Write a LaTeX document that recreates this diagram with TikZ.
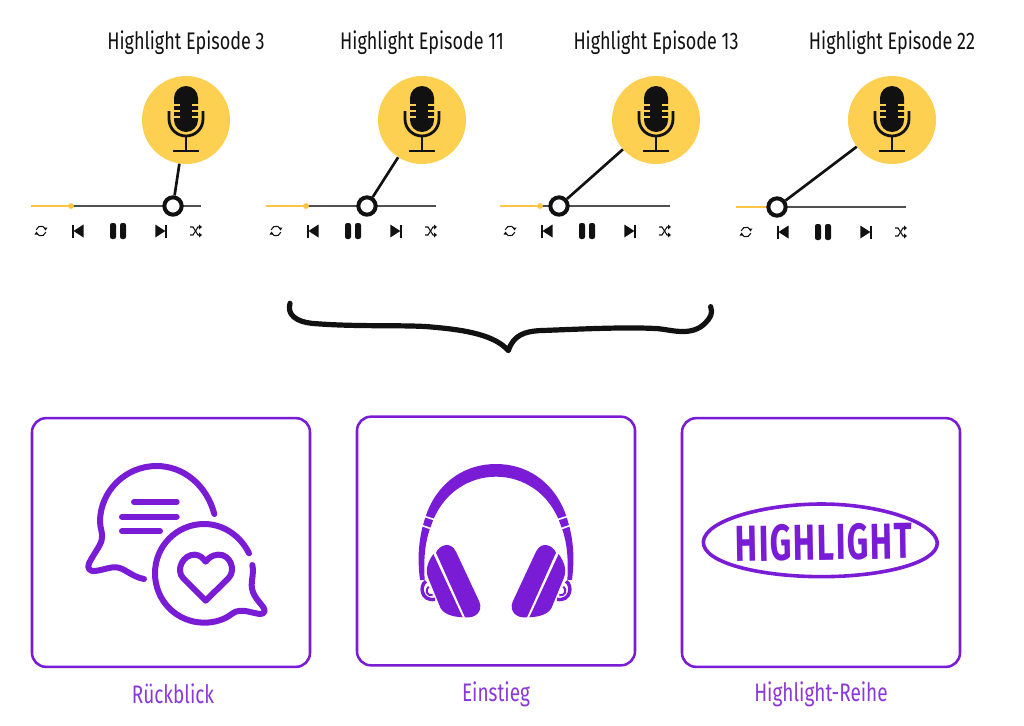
\documentclass[tikz,border=0pt]{standalone}
\usepackage{fontspec}
\setmainfont{Fira Sans}
\newfontfamily\condfont[FakeStretch=0.75]{Fira Sans}
\newfontfamily\handfont[FakeStretch=0.66,LetterSpace=3]{Fira Sans Bold}
\definecolor{purp}{HTML}{7A1CD6}
\definecolor{yel}{HTML}{FDD052}
\definecolor{ink}{HTML}{111111}
\definecolor{track}{HTML}{505050}
\tikzset{
  micdisc/.style={circle,fill=yel,minimum size=66pt,inner sep=0pt},
  knob/.style={circle,draw=ink,fill=white,line width=3pt,minimum size=13pt,inner sep=0pt},
  conn/.style={draw=ink,line width=2pt},
  eplabel/.style={font=\condfont\fontsize{18}{20}\selectfont,text=ink,inner sep=0pt},
  catbox/.style={draw=purp,line width=1.9pt,rounded corners=10.5pt,minimum width=208.5pt,minimum height=186.5pt,inner sep=0pt,fill=white},
  catlabel/.style={font=\condfont\fontsize{19}{20}\selectfont,text=purp!88!white,inner sep=0pt},
  icon/.style={draw=purp,line width=4.5pt,line cap=round,line join=round},
  iconscale/.style={x=0.25pt,y=-0.25pt},
  mic/.pic={
    \fill[ink] (-12,-21) arc[start angle=180,end angle=0,radius=9pt] -- (12,1) arc[start angle=0,end angle=-180,radius=9pt] -- cycle;
    \draw[yel,line width=1.1pt] (-13,-14) -- (-6,-14) (13,-14) -- (6,-14) (-13,-8) -- (-6,-8) (13,-8) -- (6,-8) (-13,-2) -- (-6,-2) (13,-2) -- (6,-2);
    \draw[ink,line width=2.1pt] (-17,-8) -- (-17,0) .. controls (-17,10) and (-9,17) .. (0,17) .. controls (9,17) and (17,10) .. (17,0) -- (17,-8);
    \draw[ink,line width=2.1pt] (0,17) -- (0,32) (-13,32) -- (13,32);
  },
  ctrl/.pic={
    % repeat
    \draw[ink,line width=0.8pt] (14.5,-2) arc[start angle=25,end angle=165,radius=3.75pt];
    \draw[ink,line width=0.8pt] (5.5,2) arc[start angle=205,end angle=345,radius=3.75pt];
    \fill[ink] (16.5,-3.5) -- (12.5,-3.5) -- (14.5,-0.5) -- cycle (3.5,3.5) -- (7.5,3.5) -- (5.5,0.5) -- cycle;
    % previous
    \fill[ink] (41.3,-6.5) rectangle (43,6.5);
    \fill[ink] (42.5,0) -- (52.5,-6.5) -- (52.5,6.5) -- cycle;
    % pause
    \fill[ink,rounded corners=1.6pt] (79,-8) rectangle (85,8);
    \fill[ink,rounded corners=1.6pt] (89,-8) rectangle (95,8);
    % next
    \fill[ink] (134.3,0) -- (124.3,-6.5) -- (124.3,6.5) -- cycle;
    \fill[ink] (134,-6.5) rectangle (135.7,6.5);
    % shuffle
    \draw[ink,line width=0.8pt] (159,-4) -- (162,-4) -- (167,4) -- (169,4);
    \draw[ink,line width=0.8pt] (159,4) -- (162,4) -- (167,-4) -- (169,-4);
    \fill[ink] (171,-4) -- (168,-6.5) -- (168,-1.5) -- cycle (171,4) -- (168,1.5) -- (168,6.5) -- cycle;
  }
}
\newcommand{\halfphone}{%
  \fill[purp] (258,428) .. controls (268,405) and (302,392) .. (318,425) -- (388,575) .. controls (400,605) and (375,626) .. (345,622) -- cycle;
  \fill[purp] (250,432) -- (338,622) .. controls (310,620) and (285,615) .. (272,595) -- (235,505) .. controls (225,480) and (232,458) .. (250,432) -- cycle;
  \draw[purp,line width=2.6pt] (228,514) .. controls (208,525) and (212,575) .. (255,568);
  \draw[purp,line width=1.5pt] (236,530) .. controls (224,540) and (230,558) .. (248,556);
  \draw[white,line width=1.2pt] (219,318) -- (254,329) (212,345) -- (245,357);
}
\begin{document}
\begin{tikzpicture}[x=0.75pt,y=-0.75pt]
\useasboundingbox[fill=white] (0,0) rectangle (1024,725);

% players
\foreach \i/\x/\y/\hx/\mx/\t in {1/31/206/173/186/3,2/266/206/367/422/11,3/500/206/559/656/13,4/736/207/777/892/22}{
  \node[eplabel] (lab\i) at (\mx,42.5) {Highlight Episode \t};
  \node[micdisc] (disc\i) at (\mx,120) {};
  \pic at (\mx,119) {mic};
  \draw[track,line width=1.4pt] (\x,\y) -- ++(170,0);
  \draw[yel!85!orange,line width=1.4pt] (\x,\y) -- ++(40,0);
  \fill[yel!85!orange] (\x+40,\y) circle[radius=2.2pt];
  \node[knob] (knob\i) at (\hx,\y) {};
  \draw[conn] (disc\i) -- (knob\i);
  \pic at (\x,\y+25) {ctrl};
}

% brace
\begin{scope}[shift={(275,290)},iconscale]
\draw[ink,line width=3.9pt,line cap=round,line join=round]
  (45,40) .. controls (35,75) and (65,95) .. (110,100)
  .. controls (250,112) and (400,103) .. (480,112)
  .. controls (570,120) and (660,135) .. (700,182)
  .. controls (715,135) and (750,125) .. (790,122)
  .. controls (900,118) and (1050,110) .. (1150,116)
  .. controls (1190,120) and (1250,140) .. (1290,100)
  .. controls (1305,85) and (1315,70) .. (1307,50);
\end{scope}

% boxes
\node[catbox] (boxa) at (171,542.5) {};
\node[catbox] (boxb) at (496,541) {};
\node[catbox] (boxc) at (821,542.5) {};
\node[catlabel] (laba) at (173,694) {Rückblick};
\node[catlabel] (labb) at (496,694) {Einstieg};
\node[catlabel] (labc) at (821,694) {Highlight-Reihe};

% chat icon
\begin{scope}[shift={(20,410)},iconscale]
\draw[icon] (583,312) .. controls (560,225) and (490,168) .. (410,168)
  .. controls (315,168) and (240,245) .. (240,335)
  .. controls (240,355) and (250,370) .. (245,390)
  .. controls (240,410) and (222,430) .. (207,460)
  .. controls (200,475) and (210,485) .. (225,483)
  .. controls (250,480) and (270,470) .. (290,472)
  .. controls (315,475) and (335,500) .. (372,507);
\draw[icon] (342,276) -- (470,276) (306,320) -- (470,320) (306,364) -- (420,364);
\draw[icon] (687,430) .. controls (662,378) and (610,342) .. (553,342)
  .. controls (470,342) and (405,408) .. (405,490)
  .. controls (405,572) and (470,638) .. (553,638)
  .. controls (585,638) and (615,628) .. (635,612)
  .. controls (650,600) and (668,600) .. (690,606)
  -- (718,612) .. controls (733,613) and (738,602) .. (730,592)
  .. controls (718,575) and (695,555) .. (695,525)
  .. controls (695,505) and (702,490) .. (697,465);
\draw[icon] (557,572) -- (490,505) .. controls (465,480) and (490,432) .. (525,434)
  .. controls (540,435) and (550,445) .. (557,455)
  .. controls (565,445) and (575,435) .. (595,434)
  .. controls (630,432) and (650,480) .. (625,505) -- cycle;
\end{scope}

% headphones
\begin{scope}[shift={(350,410)},iconscale]
\fill[purp] (210,510) .. controls (200,430) and (208,370) .. (232,305)
  .. controls (270,210) and (350,162) .. (438,162)
  .. controls (526,162) and (606,210) .. (644,305)
  .. controls (668,370) and (676,430) .. (666,510)
  -- (652,510) .. controls (656,440) and (650,390) .. (632,345)
  .. controls (600,250) and (520,200) .. (438,200)
  .. controls (356,200) and (276,250) .. (244,345)
  .. controls (226,390) and (220,440) .. (224,510) -- cycle;
\halfphone
\begin{scope}[shift={(876,0)},xscale=-1]
\halfphone
\end{scope}
\end{scope}

% highlight badge
\begin{scope}[shift={(675,480)},iconscale]
\draw[purp,line width=2.7pt] (85,185) .. controls (90,120) and (270,72) .. (440,72)
  .. controls (620,72) and (785,130) .. (787,190)
  .. controls (785,250) and (620,290) .. (440,290)
  .. controls (260,290) and (82,250) .. (85,185) -- cycle;
\node[inner sep=0pt,text=purp,rotate=1,font=\handfont\fontsize{38}{44}\selectfont] (hl) at (446,187) {HIGHLIGHT};
\end{scope}
\end{tikzpicture}
\end{document}
